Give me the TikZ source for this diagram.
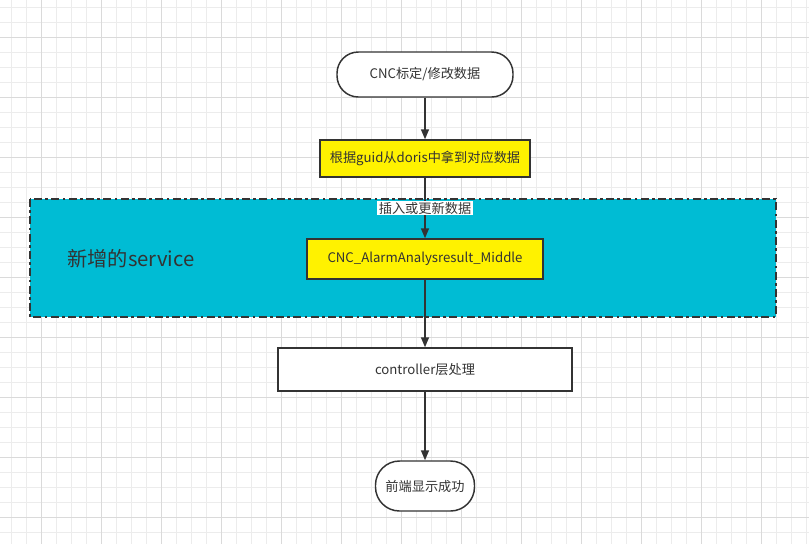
\documentclass[tikz,border=0pt]{standalone}
\usepackage{fontspec}
\setmainfont{Noto Sans CJK SC}
\usetikzlibrary{arrows.meta}

\definecolor{inkgray}{RGB}{51,51,51}
\definecolor{gridminor}{RGB}{236,236,236}
\definecolor{gridmajor}{RGB}{218,218,218}
\definecolor{servicecyan}{RGB}{0,188,212}

\tikzset{
  terminal/.style={draw=inkgray, line width=1.1pt, fill=white, rounded corners=16pt, text=inkgray, font=\fontsize{9.9pt}{12pt}\selectfont},
  process/.style={draw=inkgray, line width=1.1pt, fill=white, text=inkgray, font=\fontsize{9.9pt}{12pt}\selectfont},
  hilite/.style={process, fill=yellow},
  flow/.style={draw=inkgray, line width=1.1pt, -{Triangle[length=7.5pt,width=6pt]}},
  edgelbl/.style={fill=white, inner sep=1pt, text=inkgray, font=\fontsize{9.9pt}{12pt}\selectfont}
}

\begin{document}
\begin{tikzpicture}[x=0.75pt,y=0.75pt,yscale=-1,xscale=1]
\useasboundingbox (0,0) rectangle (809,544);

%Grid
\foreach \gx in {11.7,26.7,...,809} {\draw[gridminor, line width=0.6pt] (\gx,0) -- (\gx,544);}
\foreach \gy in {7.3,22.3,...,544} {\draw[gridminor, line width=0.6pt] (0,\gy) -- (809,\gy);}
\foreach \gx in {41.7,101.7,...,809} {\draw[gridmajor, line width=0.6pt] (\gx,0) -- (\gx,544);}
\foreach \gy in {37.3,97.3,...,544} {\draw[gridmajor, line width=0.6pt] (0,\gy) -- (809,\gy);}

%Shape: Rectangle (service area)
\draw[draw=inkgray, line width=1.1pt, fill=servicecyan, dash pattern=on 6pt off 2.5pt on 2pt off 2.5pt] (30,199) rectangle (776,317);
\node[text=inkgray, font=\fontsize{15.2pt}{18pt}\selectfont] (svclbl) at (131,259) {新增的service};

%Nodes
\node[terminal, minimum width=132pt, minimum height=33.75pt] (start) at (425,74.5) {CNC标定/修改数据};
\node[hilite, minimum width=157.5pt, minimum height=27.75pt] (fetch) at (425,158.5) {根据guid从doris中拿到对应数据};
\node[hilite, minimum width=177pt, minimum height=30pt] (middle) at (425,259) {CNC\_AlarmAnalysresult\_Middle};
\node[process, minimum width=220.5pt, minimum height=32.25pt] (ctrl) at (425,369.5) {controller层处理};
\node[terminal, rounded corners=18pt, minimum width=74.25pt, minimum height=37.5pt] (done) at (425,486) {前端显示成功};

%Straight Lines
\draw[flow] (start) -- (fetch);
\draw[flow] (fetch) -- node[edgelbl] {插入或更新数据} (middle);
\draw[flow] (middle) -- (ctrl);
\draw[flow] (ctrl) -- (done);

\end{tikzpicture}
\end{document}
